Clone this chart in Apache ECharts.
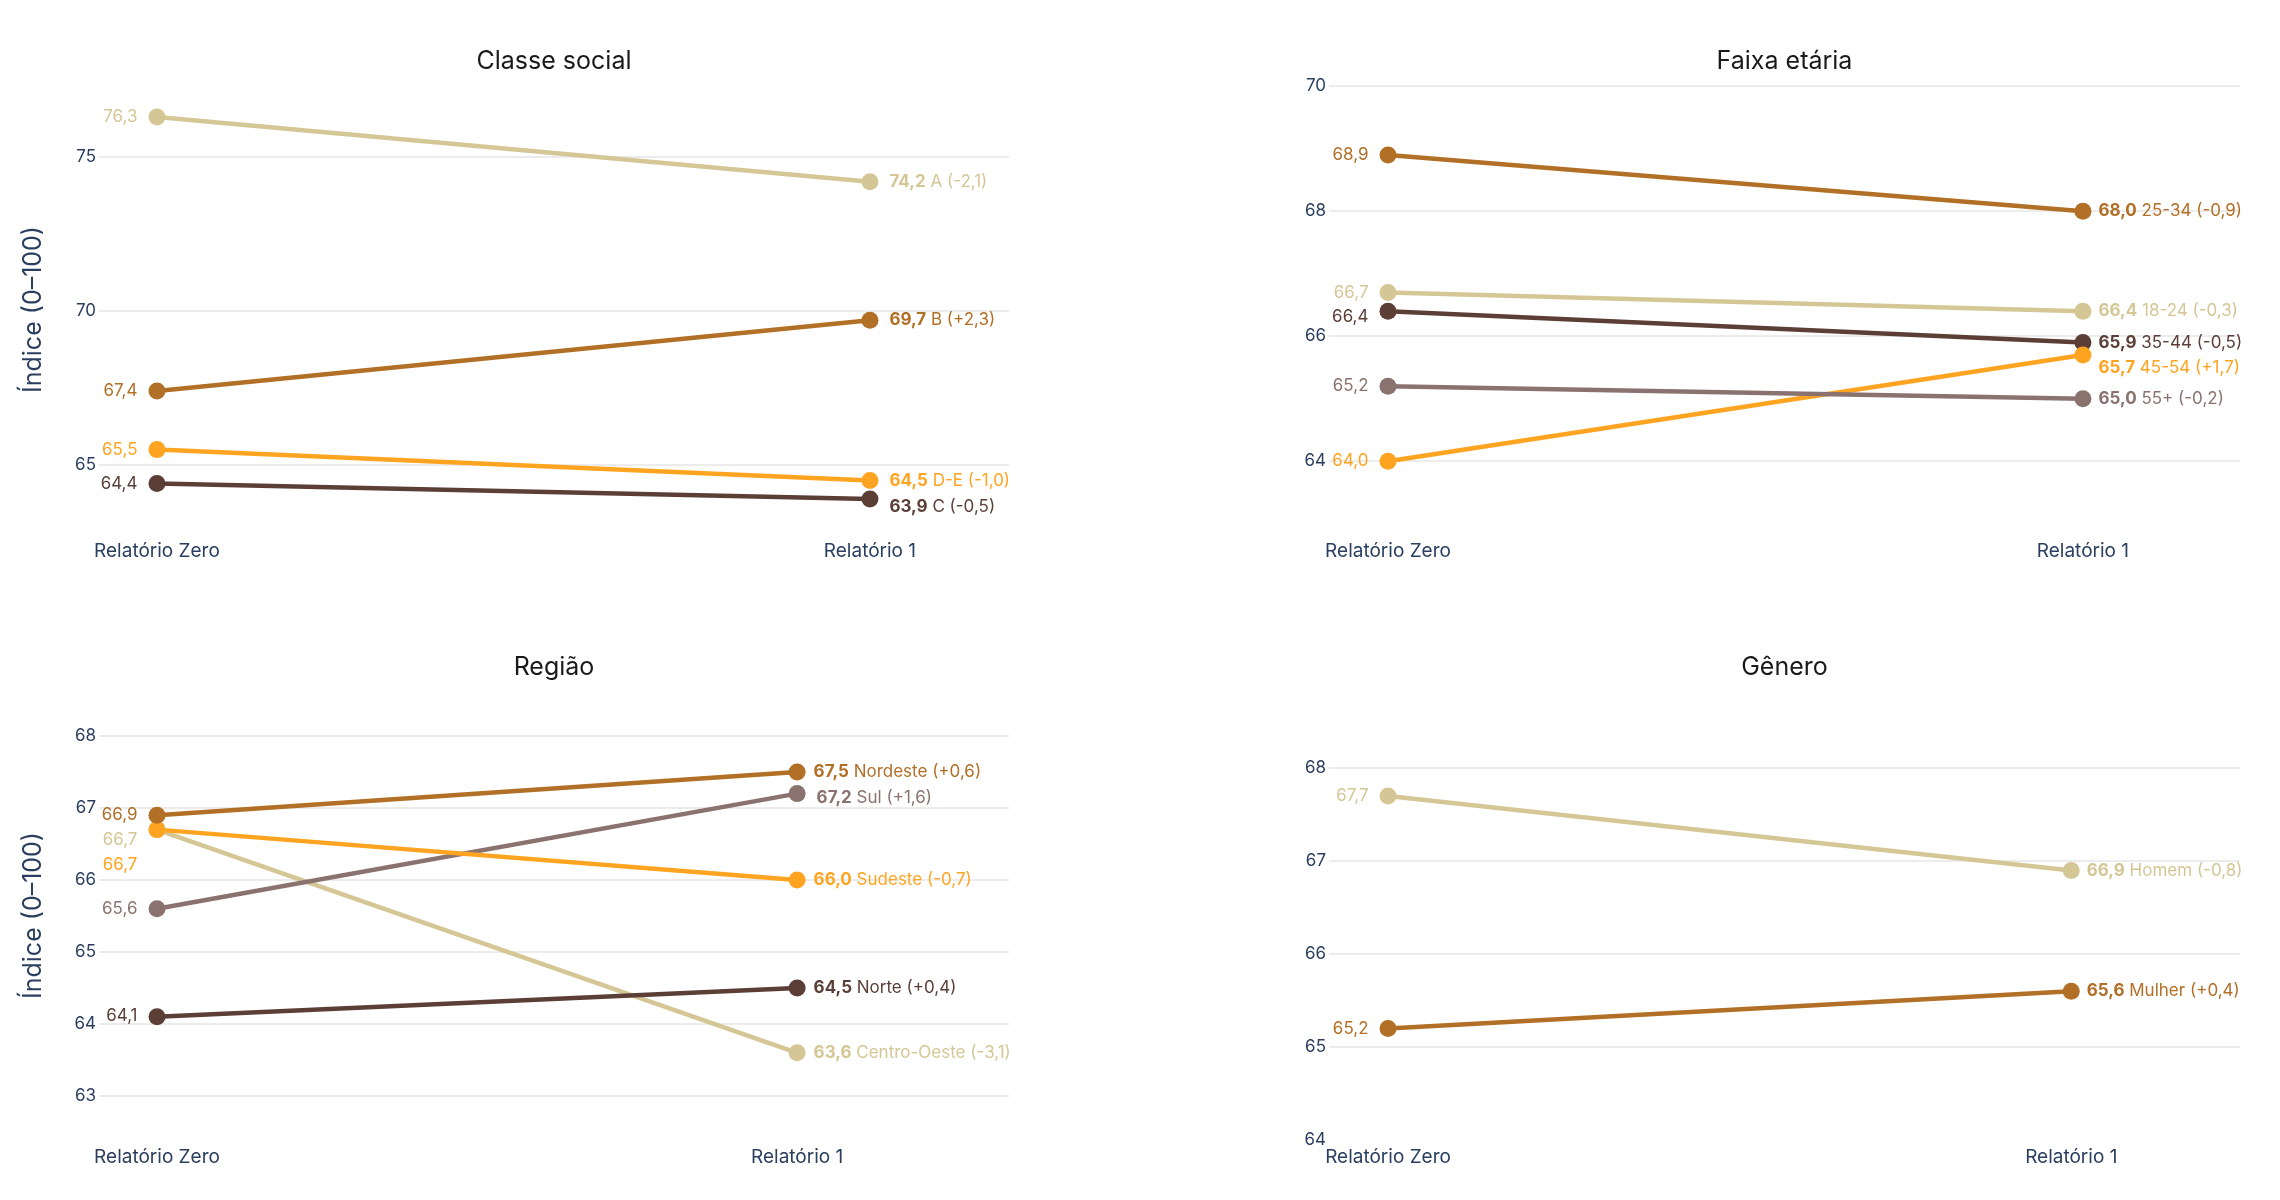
<!DOCTYPE html>
<html>
<head>
<meta charset="utf-8">
<script src="https://cdn.jsdelivr.net/npm/echarts@6/dist/echarts.min.js"></script>
<style>
  html, body { margin: 0; padding: 0; background: #fff; }
  #chart { width: 2280px; height: 1200px; }
</style>
</head>
<body>
<div id="chart"></div>
<script>
const categorias = ['Relatório Zero', 'Relatório 1'];

const classeNomes = ['A', 'B', 'C', 'D-E'];
const classeZero = [76.3, 67.4, 64.4, 65.5];
const classeUm = [74.2, 69.7, 63.9, 64.5];
const classeTicks = [65, 70, 75];

const faixaNomes = ['18-24', '25-34', '35-44', '45-54', '55+'];
const faixaZero = [66.7, 68.9, 66.4, 64.0, 65.2];
const faixaUm = [66.4, 68.0, 65.9, 65.7, 65.0];
const faixaTicks = [64, 66, 68, 70];

const regiaoNomes = ['Centro-Oeste', 'Norte', 'Sul', 'Sudeste', 'Nordeste'];
const regiaoZero = [66.7, 64.1, 65.6, 66.7, 66.9];
const regiaoUm = [63.6, 64.5, 67.2, 66.0, 67.5];
const regiaoTicks = [63, 64, 65, 66, 67, 68];

const generoNomes = ['Homem', 'Mulher'];
const generoZero = [67.7, 65.2];
const generoUm = [66.9, 65.6];
const generoTicks = [64, 65, 66, 67, 68];

const FONTE = "Inter, 'Noto Sans', sans-serif";
const AZUL = '#2a3f5f';

// paleta
const TAN = '#d5c795';
const MARROM = '#b26f26';
const LARANJA = '#ffa421';
const ESCURO = '#5b3f37';
const TAUPE = '#8a736e';

const paineis = [
  {
    titulo: 'Classe social', nomes: classeNomes, zero: classeZero, um: classeUm, ticks: classeTicks,
    cores: [TAN, MARROM, ESCURO, LARANJA],
    grid: { left: 99, top: 85, width: 910, height: 449 },
    yExt: [62.76, 77.34], xExt: [-0.0813, 1.195], nomeY: true, dist: 11,
    offEsq: {}, offDir: { 2: [0, 8] },
  },
  {
    titulo: 'Faixa etária', nomes: faixaNomes, zero: faixaZero, um: faixaUm, ticks: faixaTicks,
    cores: [TAN, MARROM, ESCURO, LARANJA, TAUPE],
    grid: { left: 1329, top: 85, width: 911, height: 449 },
    yExt: [62.835, 70.02], xExt: [-0.0849, 1.226], nomeY: false, dist: 7,
    offEsq: { 2: [0, 6] }, offDir: { 3: [0, 13] },
  },
  {
    titulo: 'Região', nomes: regiaoNomes, zero: regiaoZero, um: regiaoUm, ticks: regiaoTicks,
    cores: [TAN, ESCURO, TAUPE, LARANJA, MARROM],
    grid: { left: 99, top: 691, width: 910, height: 449 },
    yExt: [62.39, 68.625], xExt: [-0.0906, 1.331], nomeY: true, dist: 8,
    offEsq: { 0: [0, 10], 1: [0, -1], 3: [0, 35] }, offDir: { 2: [3, 4] },
  },
  {
    titulo: 'Gênero', nomes: generoNomes, zero: generoZero, um: generoUm, ticks: generoTicks,
    cores: [TAN, MARROM],
    grid: { left: 1329, top: 691, width: 911, height: 449 },
    yExt: [64, 68.83], xExt: [-0.0864, 1.247], nomeY: false, dist: 7,
    offEsq: {}, offDir: {},
  },
];

const fmt = (v) => v.toFixed(1).replace('.', ',');
const fmtDelta = (d) => (d > 0 ? '+' : '') + d.toFixed(1).replace('.', ',');

const grids = [];
const xAxes = [];
const yAxes = [];
const titles = [];
const series = [];

paineis.forEach((p, i) => {
  grids.push(p.grid);
  titles.push({
    text: p.titulo,
    left: p.grid.left + p.grid.width / 2,
    top: p.grid.top - 36,
    textAlign: 'center',
    padding: 0,
    textStyle: { fontFamily: FONTE, fontSize: 25, fontWeight: 'normal', color: '#1a1a1a' },
  });
  xAxes.push({
    type: 'value',
    gridIndex: i,
    min: p.xExt[0],
    max: p.xExt[1],
    minInterval: 1,
    maxInterval: 1,
    axisLine: { show: false },
    axisTick: { show: false },
    splitLine: { show: false },
    axisLabel: {
      margin: 8,
      fontFamily: FONTE,
      fontSize: 19,
      color: AZUL,
      formatter: (v) => (Number.isInteger(v) && categorias[v] ? categorias[v] : ''),
    },
  });
  const passo = p.ticks[1] - p.ticks[0];
  yAxes.push({
    type: 'value',
    gridIndex: i,
    min: p.yExt[0],
    max: p.yExt[1],
    minInterval: passo,
    maxInterval: passo,
    name: p.nomeY ? 'Índice (0–100)' : '',
    nameLocation: 'middle',
    nameGap: 53,
    nameTextStyle: { fontFamily: FONTE, fontSize: 25, color: AZUL },
    axisLine: { show: false },
    axisTick: { show: false },
    axisLabel: {
      margin: 3,
      fontFamily: FONTE,
      fontSize: 17,
      color: AZUL,
      formatter: (v) => (p.ticks.includes(v) ? String(v) : ''),
    },
    splitLine: {
      show: true,
      showMinLine: false,
      showMaxLine: false,
      lineStyle: { color: '#ececec', width: 2 },
    },
  });

  p.nomes.forEach((nome, k) => {
    const cor = p.cores[k];
    const delta = p.um[k] - p.zero[k];
    series.push({
      type: 'line',
      name: nome,
      xAxisIndex: i,
      yAxisIndex: i,
      symbol: 'circle',
      symbolSize: 17,
      lineStyle: { width: 4.5, color: cor },
      itemStyle: { color: cor },
      emphasis: { disabled: true },
      label: { color: cor, fontFamily: FONTE, fontSize: 17, fontWeight: 'normal' },
      data: [
        {
          value: [0, p.zero[k]],
          label: {
            show: true,
            position: 'left',
            distance: 11,
            offset: p.offEsq[k] || [0, 0],
            formatter: fmt(p.zero[k]),
          },
        },
        {
          value: [1, p.um[k]],
          label: {
            show: true,
            position: 'right',
            distance: p.dist,
            offset: p.offDir[k] || [0, 0],
            formatter: '{b|' + fmt(p.um[k]) + '} {n|' + nome + ' (' + fmtDelta(delta) + ')}',
            rich: {
              b: { fontWeight: 'bold', color: cor, fontFamily: FONTE, fontSize: 17 },
              n: { fontWeight: 'normal', color: cor, fontFamily: FONTE, fontSize: 17 },
            },
          },
        },
      ],
    });
  });
});

const chart = echarts.init(document.getElementById('chart'));
chart.setOption({
  animation: false,
  backgroundColor: '#ffffff',
  title: titles,
  grid: grids,
  xAxis: xAxes,
  yAxis: yAxes,
  series: series,
});
</script>
</body>
</html>
